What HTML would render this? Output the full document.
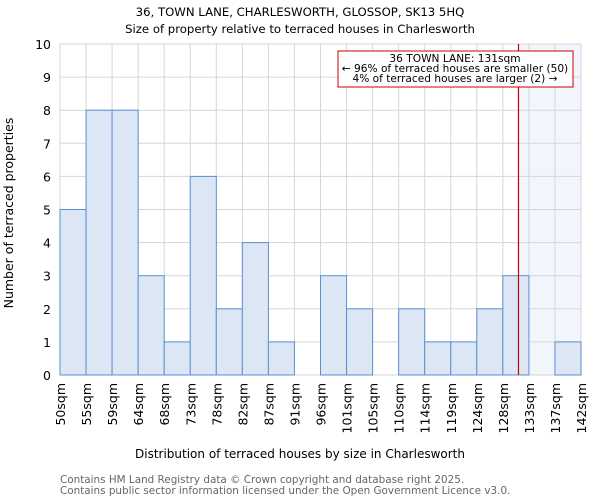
<!DOCTYPE html>
<html><head><meta charset="utf-8"><style>
body{margin:0;background:#fff;font-family:"DejaVu Sans","Liberation Sans",sans-serif}
svg text{font-family:"DejaVu Sans","Liberation Sans",sans-serif}
</style></head><body>
<svg id="c" width="600" height="500" xmlns="http://www.w3.org/2000/svg">
<text x="300" y="16" text-anchor="middle" font-size="11.7">36, TOWN LANE, CHARLESWORTH, GLOSSOP, SK13 5HQ</text>
<text x="300" y="33" text-anchor="middle" font-size="11.7">Size of property relative to terraced houses in Charlesworth</text>
<g id="plot"></g>
<text x="300" y="458" text-anchor="middle" font-size="12">Distribution of terraced houses by size in Charlesworth</text>
<text transform="translate(13,213) rotate(-90)" text-anchor="middle" font-size="12.5">Number of terraced properties</text>
<text x="60" y="483" font-size="10.4" fill="#666">Contains HM Land Registry data © Crown copyright and database right 2025.</text>
<text x="60" y="494" font-size="10.4" fill="#666">Contains public sector information licensed under the Open Government Licence v3.0.</text>
</svg>
<script>
const categories=["50sqm","55sqm","59sqm","64sqm","68sqm","73sqm","78sqm","82sqm","87sqm","91sqm","96sqm","101sqm","105sqm","110sqm","114sqm","119sqm","124sqm","128sqm","133sqm","137sqm","142sqm"];
const counts=[5,8,8,3,1,6,2,4,1,0,3,2,0,2,1,1,2,3,0,1];
const yTicks=[0,1,2,3,4,5,6,7,8,9,10];
const markerBin=17.6;
const NS="http://www.w3.org/2000/svg";
const g=document.getElementById('plot');
const L=60,R=581,T=44,B=375,n=counts.length;
const x=i=>L+(R-L)*i/n;
const y=v=>B-(B-T)*v/10;
function el(t,a,p){const e=document.createElementNS(NS,t);for(const k in a)e.setAttribute(k,a[k]);(p||g).appendChild(e);return e;}
const hl=el('rect',{x:x(markerBin),y:T,width:R-x(markerBin),height:B-T,fill:'#f1f5fc'});


yTicks.forEach(v=>{const l=el('line',{x1:L,x2:R,y1:y(v),y2:y(v),stroke:'#d6d6d6','stroke-width':1});


const t=el('text',{x:L-9,y:y(v)+5,'text-anchor':'end','font-size':12.5});t.textContent=v;

});
for(let i=0;i<=n;i++){const l=el('line',{x1:x(i),x2:x(i),y1:T,y2:B,stroke:'#d6d6d6','stroke-width':1});

}
counts.forEach((c,i)=>{if(!c)return;const r=el('rect',{x:x(i),y:y(c),width:x(i+1)-x(i),height:B-y(c),fill:'#dce6f4',stroke:'#5b8fd6','stroke-width':1});

});
categories.forEach((c,i)=>{const t=el('text',{transform:`translate(${x(i)+5},${B+8}) rotate(-90)`,'text-anchor':'end','font-size':12.5});t.textContent=c;

});
const ml=el('line',{x1:x(markerBin),x2:x(markerBin),y1:T,y2:B,stroke:'#cc0000','stroke-width':1.2});


const box=el('rect',{x:338,y:51,width:235,height:36,fill:'#fff',stroke:'#cc0000','stroke-width':1});


["36 TOWN LANE: 131sqm","← 96% of terraced houses are smaller (50)","4% of terraced houses are larger (2) →"].forEach((s,i)=>{const t=el('text',{x:455,y:62+i*10,'text-anchor':'middle','font-size':10.6});t.textContent=s;

});
</script>
</body></html>
